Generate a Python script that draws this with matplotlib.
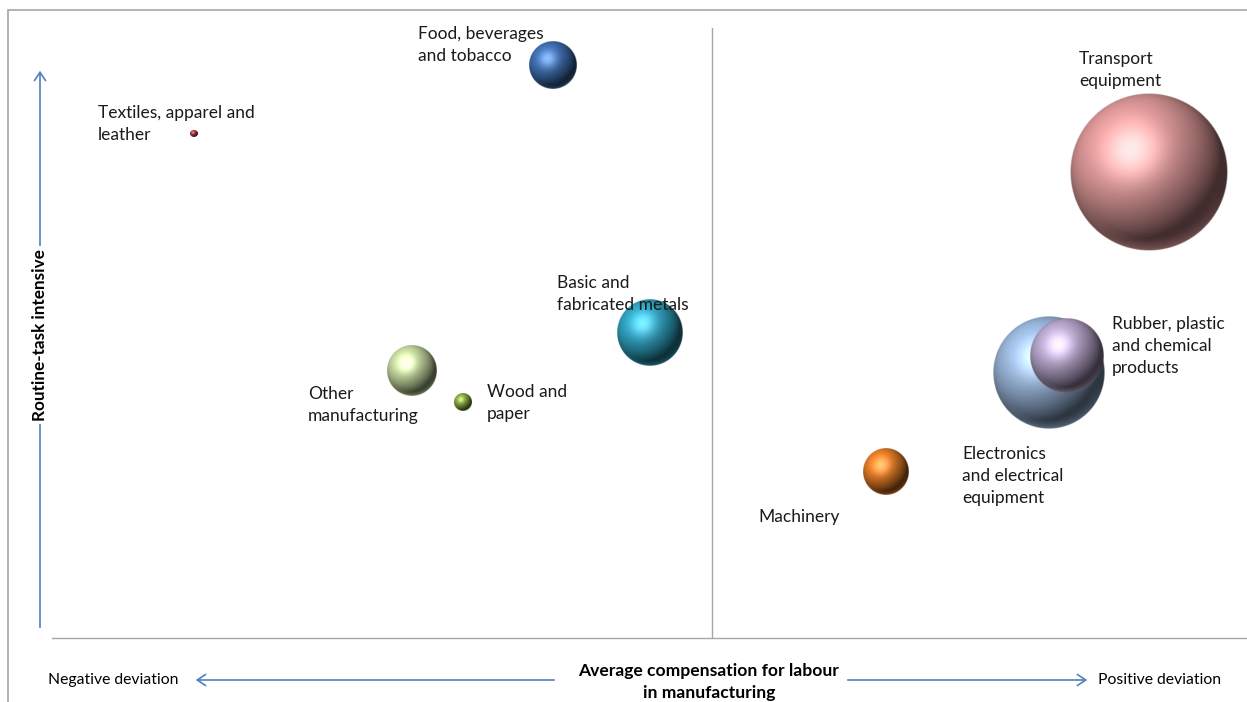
import numpy as np
import matplotlib
matplotlib.use("Agg")
import matplotlib.pyplot as plt
from matplotlib.colors import to_rgb
from matplotlib.patches import Rectangle, FancyArrowPatch

# industries: x = deviation of labour compensation, y = routine-task intensity, size = bubble radius
labels = ["Textiles, apparel and\nleather", "Food, beverages\nand tobacco",
          "Basic and\nfabricated metals", "Other\nmanufacturing", "Wood and\npaper",
          "Machinery", "Electronics\nand electrical\nequipment",
          "Rubber, plastic\nand chemical\nproducts", "Transport\nequipment"]
x_dev = [-5.18, -1.59, -0.62, -3.00, -2.49, 1.74, 3.37, 3.55, 4.37]
y_rti = [5.04, 5.73, 3.05, 2.67, 2.36, 1.66, 2.65, 2.82, 4.66]
size = [0.035, 0.24, 0.33, 0.25, 0.09, 0.23, 0.56, 0.37, 0.79]

colors = ["#A8383A", "#3E6DAE", "#2FA0BE", "#C4D79E", "#86A33E",
          "#E07A26", "#98B4D8", "#B4A3C8", "#DA9696"]
# label offsets (pixels) from bubble centre
offs = [(-96, 10), (-135, 20), (-93, 39), (-104, -34), (24, -1),
        (-128, -45), (-87, -103), (45, 10), (-70, 102)]

FONT = ["Lato", "DejaVu Sans"]


def sphere(color, n=240):
    v, u = np.mgrid[1:-1:n * 1j, -1:1:n * 1j]
    rr = u ** 2 + v ** 2
    z = np.sqrt(np.clip(1 - rr, 0, 1))
    L = np.array([-0.4, 0.5, 0.77])
    L = L / np.linalg.norm(L)
    d = np.clip(u * L[0] + v * L[1] + z * L[2], 0, 1)
    H = L + np.array([0, 0, 1.0])
    H = H / np.linalg.norm(H)
    spec = np.clip(u * H[0] + v * H[1] + z * H[2], 0, 1) ** 14
    base = np.array(to_rgb(color))
    rgb = base * (0.30 + 0.80 * d)[..., None] + 0.30 * spec[..., None]
    # soft reflected light along the lower rim
    rim = np.clip((rr - 0.70) / 0.30, 0, 1) * np.clip(-v - 0.2, 0, 1)
    rgb = rgb * (1 - 0.5 * rim[..., None]) + base * 0.5 * rim[..., None]
    rgb = np.clip(rgb, 0, 1)
    a = np.clip((1 - np.sqrt(rr)) * n / 2, 0, 1)
    return np.dstack([rgb, a])


fig = plt.figure(figsize=(12.47, 7.02), dpi=100)
W, Hh = 1247, 702
ax = fig.add_axes([52 / W, 1 - 638 / Hh, 1195 / W, 610 / Hh])
ax.set_xlim(-6.6, 5.35)
ax.set_ylim(0, 6.1)
for s in ["top", "right", "left"]:
    ax.spines[s].set_visible(False)
ax.spines["bottom"].set_color("#A6A6A6")
ax.spines["bottom"].set_linewidth(1.0)
ax.set_xticks([])
ax.set_yticks([])
ax.axvline(0, color="#A6A6A6", lw=1.0, zorder=1)

for i in range(len(labels)):
    r = size[i]
    ax.imshow(sphere(colors[i]), extent=(x_dev[i] - r, x_dev[i] + r, y_rti[i] - r, y_rti[i] + r),
              aspect="auto", interpolation="bilinear", zorder=2 + i)
    ax.annotate(labels[i], xy=(x_dev[i], y_rti[i]), xytext=offs[i], textcoords="offset pixels",
                ha="left", va="center", fontsize=12.5, family=FONT, linespacing=1.45,
                color="#1a1a1a", zorder=20)

# figure frame (open at right and bottom)
fig.patches.append(Rectangle((8 / W, -0.2), 1.1, 1.2 - 10 / Hh, transform=fig.transFigure,
                             fill=False, edgecolor="#A6A6A6", lw=1.2))

blue = "#4F81BD"
astyle = "->,head_length=6,head_width=4"
# y axis arrow and title
fig.add_artist(FancyArrowPatch((40, Hh - 630), (40, Hh - 68), transform=None,
                               arrowstyle=astyle, color=blue, lw=1.2))
fig.text(40 / W, 1 - 335 / Hh, "Routine-task intensive", rotation=90, ha="center", va="center",
         fontsize=12.3, fontweight="bold", family=FONT,
         bbox=dict(facecolor="white", edgecolor="none", pad=2))

# x axis arrows and titles
fig.add_artist(FancyArrowPatch((557, Hh - 680), (193, Hh - 680), transform=None,
                               arrowstyle=astyle, color=blue, lw=1.2))
fig.add_artist(FancyArrowPatch((845, Hh - 680), (1090, Hh - 680), transform=None,
                               arrowstyle=astyle, color=blue, lw=1.2))
fig.text(48 / W, 1 - 680 / Hh, "Negative deviation", ha="left", va="center", fontsize=11.3, family=FONT)
fig.text(1098 / W, 1 - 680 / Hh, "Positive deviation", ha="left", va="center", fontsize=11.3, family=FONT)
fig.text(709 / W, 1 - 682 / Hh, "Average compensation for labour\nin manufacturing", ha="center",
         va="center", fontsize=12.6, fontweight="bold", family=FONT, linespacing=1.4)

fig.savefig("out.png", dpi=100)
